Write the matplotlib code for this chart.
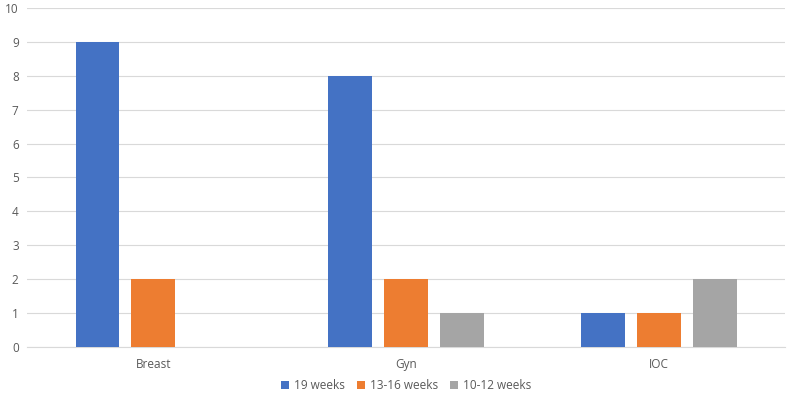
import matplotlib
matplotlib.use("Agg")
import matplotlib.pyplot as plt
import numpy as np

categories = ["Breast", "Gyn", "IOC"]
series_names = ["19 weeks", "13-16 weeks", "10-12 weeks"]
s19 = [9, 8, 1]
s13_16 = [2, 2, 1]
s10_12 = [0, 1, 2]
colors = ["#4472C4", "#ED7D31", "#A5A5A5"]

plt.rcParams['font.family'] = ['Open Sans', 'DejaVu Sans']

fig = plt.figure(figsize=(7.89, 3.94), dpi=100)
ax = fig.add_axes([0.0342, 0.1193, 0.9608, 0.8604])

x = np.arange(len(categories))
width = 0.174
step = 0.221
for i, (vals, name, c) in enumerate(zip([s19, s13_16, s10_12], series_names, colors)):
    ax.bar(x + (i - 1) * step, vals, width, color=c, label=name, zorder=3)

ax.set_xlim(-0.5, 2.5)
ax.set_ylim(0, 10)
ax.set_yticks(range(0, 11))
ax.set_xticks(x)
ax.set_xticklabels(categories)
ax.grid(axis='y', color='#D9D9D9', linewidth=0.8, zorder=0)
for s in ['top', 'right', 'left']:
    ax.spines[s].set_visible(False)
ax.spines['bottom'].set_color('#D9D9D9')
ax.tick_params(axis='both', length=0, colors='#595959', labelsize=8.5)
ax.tick_params(axis='y', pad=6)
ax.tick_params(axis='x', pad=8)

leg = ax.legend(loc='center', bbox_to_anchor=(0.5, -0.115), ncol=3, frameon=False,
                fontsize=8.5, handlelength=0.7, handleheight=0.7, handletextpad=0.4,
                columnspacing=1.0)
for t in leg.get_texts():
    t.set_color('#595959')

fig.savefig("out.png", dpi=100)
